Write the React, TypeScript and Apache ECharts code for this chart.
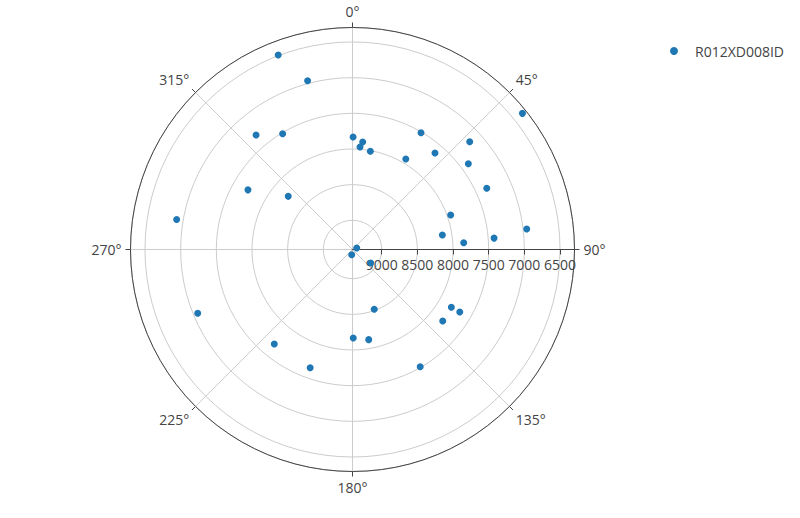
import React, { useEffect, useRef } from "react";
import * as echarts from "echarts";

// compass angles (degrees, 0 = north, clockwise) and radial values
const thetaDeg: number[] = [
  339.1, 345.1, 51.3, 319.9, 328.9, 0.3, 5.4, 4.2, 10.3, 30.4,
  47.4, 40.5, 30.5, 53.5, 65.5, 299.7, 309.6, 279.7, 70.6, 83.3,
  80.8, 85.4, 86.5, 70.3, 188.7, 126.6, 247.6, 160.0, 120.3, 120.2,
  128.4, 219.6, 179.5, 169.8, 199.7, 150.0,
];
const rValues: number[] = [
  6490, 6961, 6357, 7310, 7513, 7832, 7895, 7968, 8010, 7511,
  7177, 7629, 7937, 7389, 7341, 7722, 8240, 6908, 7950, 6950,
  8133, 7418, 7847, 9346, 9335, 9091, 7062, 8517, 7804, 7669,
  7795, 7689, 8168, 8125, 7649, 7511,
];
const seriesName = "R012XD008ID";
const radialMin = 6297;
const radialMax = 9409;
const angleTicks: number[] = [0, 45, 90, 135, 180, 225, 270, 315];

export default function App() {
  const ref = useRef<HTMLDivElement>(null);
  useEffect(() => {
    if (!ref.current) return;
    const chart = echarts.init(ref.current, undefined, { renderer: "svg" });
    const font = '"Open Sans", sans-serif';
    const data = rValues.map((r, i) => [r, (thetaDeg[i] - 90 + 360) % 360]);
    chart.setOption({
      animation: false,
      backgroundColor: "#ffffff",
      textStyle: { fontFamily: font },
      legend: {
        show: true,
        left: 665,
        top: 39,
        orient: "vertical",
        icon: "circle",
        itemWidth: 8,
        itemHeight: 8,
        textStyle: { color: "#444", fontSize: 14, fontFamily: font, padding: [0, 0, 0, 12] },
        data: [seriesName],
      },
      polar: { center: [352.5, 249.5], radius: 222 },
      angleAxis: {
        type: "value",
        min: 0,
        max: 360,
        interval: 45,
        startAngle: 0,
        clockwise: true,
        axisLine: { show: true, lineStyle: { color: "#444", width: 1 } },
        axisTick: { show: true, length: 5, lineStyle: { color: "#444" } },
        axisLabel: {
          show: true,
          margin: 9,
          color: "#444",
          fontSize: 14,
          fontFamily: font,
          formatter: (v: number) => {
            const a = Math.round((v + 90) % 360);
            return angleTicks.includes(a) ? a + "°" : "";
          },
        },
        splitLine: { show: true, lineStyle: { color: "#cccccc", width: 1 } },
      },
      radiusAxis: {
        type: "value",
        min: radialMin,
        max: radialMax,
        inverse: true,
        minInterval: 500,
        maxInterval: 500,
        axisLine: { show: true, lineStyle: { color: "#444", width: 1 } },
        axisTick: { show: true, length: -5, lineStyle: { color: "#444" } },
        axisLabel: {
          show: true,
          showMinLabel: false,
          showMaxLabel: false,
          color: "#444",
          fontSize: 14,
          fontFamily: font,
          verticalAlign: "top",
          margin: -8,
          formatter: (v: number) => String(v),
        },
        splitLine: { show: true, lineStyle: { color: "#cccccc", width: 1 } },
      },
      series: [
        {
          name: seriesName,
          type: "scatter",
          coordinateSystem: "polar",
          symbol: "circle",
          symbolSize: 7,
          itemStyle: { color: "#1f77b4", opacity: 1 },
          data,
        },
      ],
    });
    return () => chart.dispose();
  }, []);
  return <div ref={ref} style={{ width: 800, height: 518, position: "absolute", left: 0, top: 0 }} />;
}
